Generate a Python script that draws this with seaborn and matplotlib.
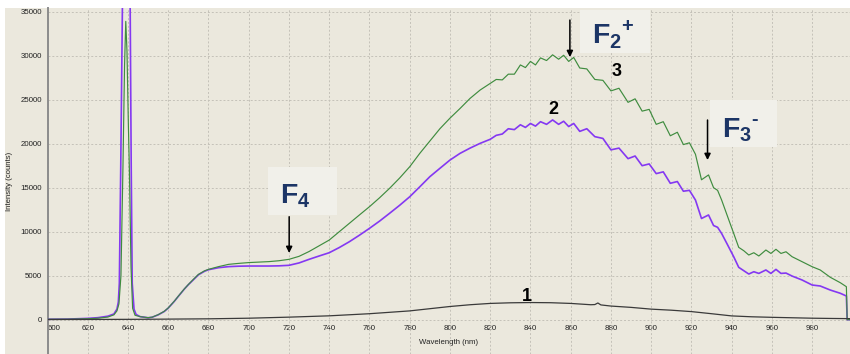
import numpy as np
import pandas as pd
import matplotlib
matplotlib.use("Agg")
import matplotlib.pyplot as plt
from matplotlib.patches import Rectangle
import seaborn as sns

# ---------------- data ----------------
wl_1 = [600, 620, 640, 650, 680, 700, 720, 740, 760, 780, 800, 810, 820, 830, 840,
        850, 860, 870, 872, 873.5, 875, 880, 890, 900, 910, 920, 930, 940, 950, 960,
        970, 980, 990, 998.8]
counts_1 = [20, 30, 40, 50, 100, 170, 290, 440, 680, 1000, 1500, 1700, 1850, 1920, 1950,
            1930, 1850, 1700, 1720, 1900, 1680, 1550, 1400, 1200, 1080, 920, 680, 430, 330, 270,
            220, 170, 140, 120]

wl_ripple = [820, 823, 826, 829, 832, 835, 837.5, 840, 842.5, 845, 848, 851, 854, 856.5,
             859, 861.5, 864.5, 868, 872, 876, 880, 884, 888.5, 892, 895.5, 899, 902.5,
             906, 909.5, 913, 916, 919, 922, 925, 928.5, 931, 933, 935, 938, 941, 943.5,
             946, 948.5, 951, 953.5, 957, 959.5, 962, 964.5, 967, 970, 975, 980, 984,
             989, 994, 997, 997.4, 998.8]

wl_2 = [600, 610, 620, 625, 630, 633, 634.5, 635.2, 635.7, 636.4, 637.2, 638.0, 639.0,
        640.0, 641.1, 641.6, 642.1, 643, 644, 646, 650, 652, 655, 658, 660, 663, 665, 668,
        670, 673, 675, 678, 680, 685, 690, 695, 700, 710, 715, 720, 725, 730, 735, 740,
        745, 750, 755, 760, 765, 770, 775, 780, 785, 790, 795, 800, 805, 810, 815] + wl_ripple
counts_2 = [50, 70, 150, 230, 400, 650, 1200, 2000, 4150, 17400, 35000, 50000, 52000,
            50000, 35000, 17400, 4150, 1200, 600, 350, 220, 280, 550, 930, 1320, 2080, 2650, 3480,
            3980, 4650, 5100, 5500, 5680, 5910, 6030, 6080, 6100, 6100, 6120, 6180, 6450, 6860, 7240, 7610,
            8200, 8860, 9600, 10380, 11200, 12090, 13000, 13970, 15100, 16250, 17200, 18140, 18900, 19500, 20040,
            20500, 20950, 21100, 21700, 21600, 22150, 21850, 22300, 22000, 22500, 22200, 22700, 22200, 22550,
            21950, 22300, 21400, 21700, 20800, 20600, 19300, 19500, 18300, 18600, 17500, 17700, 16600,
            16800, 15500, 15700, 14600, 14700, 13600, 11500, 11900, 10700, 10500, 9800, 8490, 7160, 5950,
            5570, 5190, 5450, 5260, 5650, 5260, 5720, 5260, 5300, 4960, 4510, 3940, 3830,
            3370, 3000, 2690, 0, 0]

wl_3 = [600, 610, 620, 625, 630, 633, 634.5, 635.5, 636.5, 637.5, 638.3, 638.9, 639.5,
        640.2, 640.7, 641.5, 642.3, 643.5, 646, 650, 652, 655, 658, 660, 663, 665, 668, 670,
        673, 675, 678, 680, 685, 690, 695, 700, 710, 715, 720, 725, 730, 735, 740, 745, 750,
        755, 760, 765, 770, 775, 780, 785, 790, 795, 800, 805, 810, 815] + wl_ripple
counts_3 = [50, 60, 110, 170, 300, 550, 1000, 1800, 5000, 17400, 29000, 33900, 30500,
            22000, 17000, 6000, 1300, 500, 350, 230, 290, 570, 950, 1340, 2100, 2670, 3500, 4000,
            4700, 5150, 5550, 5720, 6030, 6290, 6400, 6490, 6600, 6700, 6860, 7200, 7750, 8400, 9050, 10000, 10950,
            11900, 12840, 13850, 14930, 16100, 17380, 18900, 20300, 21700, 22900, 24000, 25150, 26100,
            26850, 27300, 27250, 27900, 27900, 28950, 28650, 29350, 28950, 29750, 29450, 30100, 29600, 30050,
            29350, 29800, 28600, 28500, 27300, 27200, 26000, 26300, 24700, 25100, 23700, 23900, 22200,
            22500, 20900, 21300, 19900, 20100, 18800, 15900, 16450, 15000, 14700, 13600, 11700, 9810, 8220,
            7840, 7350, 7610, 7240, 7920, 7530, 8000, 7530, 7720, 7160, 6590, 6020, 5650,
            4820, 4200, 3750, 0, 0]

x_ticks = list(range(600, 1000, 20))
y_ticks = list(range(0, 35001, 5000))
x_limits = (600, 998.8)
y_limits = (-3898, 35420)

curve_labels = ["1", "2", "3"]
curve_label_pos = [(838.3, 2580), (851.3, 23870), (882.8, 28250)]

# ---------------- style ----------------
BEIGE = "#ebe8dd"
BOX = "#f1f0ea"
NAVY = "#1c3566"
C1, C2, C3 = "#3a3a3a", "#8438f2", "#3f8c3f"

sns.set_style("white")
plt.rcParams["font.family"] = ["Liberation Sans", "DejaVu Sans"]
plt.rcParams["mathtext.fontset"] = "custom"
plt.rcParams["mathtext.rm"] = "Liberation Sans:bold"
plt.rcParams["mathtext.bf"] = "Liberation Sans:bold"

fig = plt.figure(figsize=(8.5, 3.54), dpi=100, facecolor="white")
fig.patches.append(Rectangle((5 / 850, 0), 1 - 5 / 850, 1 - 8 / 354,
                             transform=fig.transFigure, facecolor=BEIGE,
                             edgecolor="none", zorder=-5))
ax = fig.add_axes([47.5 / 850, 0, 1 - 47.5 / 850, 1 - 8 / 354])
ax.set_facecolor(BEIGE)

df1 = pd.DataFrame({"wl": wl_1, "counts": counts_1})
df2 = pd.DataFrame({"wl": wl_2, "counts": counts_2})
df3 = pd.DataFrame({"wl": wl_3, "counts": counts_3})

sns.lineplot(data=df2, x="wl", y="counts", ax=ax, color=C2, lw=1.2,
             estimator=None, sort=False, zorder=3)
sns.lineplot(data=df3, x="wl", y="counts", ax=ax, color=C3, lw=0.85,
             estimator=None, sort=False, zorder=4)
sns.lineplot(data=df1, x="wl", y="counts", ax=ax, color=C1, lw=0.9,
             estimator=None, sort=False, zorder=5)

ax.set_xlim(*x_limits)
ax.set_ylim(*y_limits)
ax.set_xticks(x_ticks)
ax.set_yticks(y_ticks)
ax.tick_params(axis="x", bottom=False, labelbottom=False)
ax.tick_params(axis="y", length=2, width=0.8, color="#8a8a8a", pad=2,
               labelsize=5.7, labelcolor="#222222")
ax.grid(True, color="#c4c1b8", linestyle=(0, (2, 2)), linewidth=0.7)
ax.set_axisbelow(True)
for s in ["top", "right", "bottom"]:
    ax.spines[s].set_visible(False)
ax.spines["left"].set_color("#8c8c8c")
ax.spines["left"].set_linewidth(1.4)
ax.set_xlabel("")
ax.set_ylabel("Intensity (counts)", fontsize=5.6, color="#222222", labelpad=5)

# secondary x axis sitting at y = 0
loc0 = (0 - y_limits[0]) / (y_limits[1] - y_limits[0])
sec = ax.secondary_xaxis(loc0)
sec.set_xticks(x_ticks)
sec.tick_params(axis="x", length=0, pad=3.5, labelsize=5.7, labelcolor="#222222")
for s in sec.spines.values():
    s.set_visible(False)
sec.set_xlabel("Wavelength (nm)", fontsize=5.6, color="#222222", labelpad=5)
fig.canvas.draw()
first = sec.get_xticklabels()[0]
first.set_horizontalalignment("left")

# curve numbers
for lab, (xx, yy) in zip(curve_labels, curve_label_pos):
    ax.text(xx, yy, lab, fontsize=13, fontweight="bold", color="black",
            ha="center", va="center", zorder=7)

# label boxes
boxes = [(709.6, 11890, 34.3, 5460), (864.6, 30300, 34.8, 4880), (929.2, 19620, 33.3, 5340)]
for (bx, by, bw, bh) in boxes:
    ax.add_patch(Rectangle((bx, by), bw, bh, facecolor=BOX, edgecolor="none", zorder=2))

labels = [(715.5, 13220, r"$\mathbf{F}_\mathbf{4}$"),
          (870.4, 31400, r"$\mathbf{F}_\mathbf{2}{}^\mathbf{+}$"),
          (935.0, 20790, r"$\mathbf{F}_\mathbf{3}{}^{\text{-}}$")]
for (tx, ty, s) in labels:
    ax.text(tx, ty, s, fontsize=20.5, color=NAVY, ha="left", va="baseline", zorder=6)

arrows = [(720.1, 11700, 7577), (859.6, 34050, 29840), (928.0, 22690, 18140)]
for (axx, y0, y1) in arrows:
    ax.annotate("", xy=(axx, y1), xytext=(axx, y0),
                arrowprops=dict(arrowstyle="-|>", color="black", lw=1.1,
                                mutation_scale=9, shrinkA=0, shrinkB=0),
                zorder=7)

fig.savefig("out.png", dpi=100, facecolor="white")
